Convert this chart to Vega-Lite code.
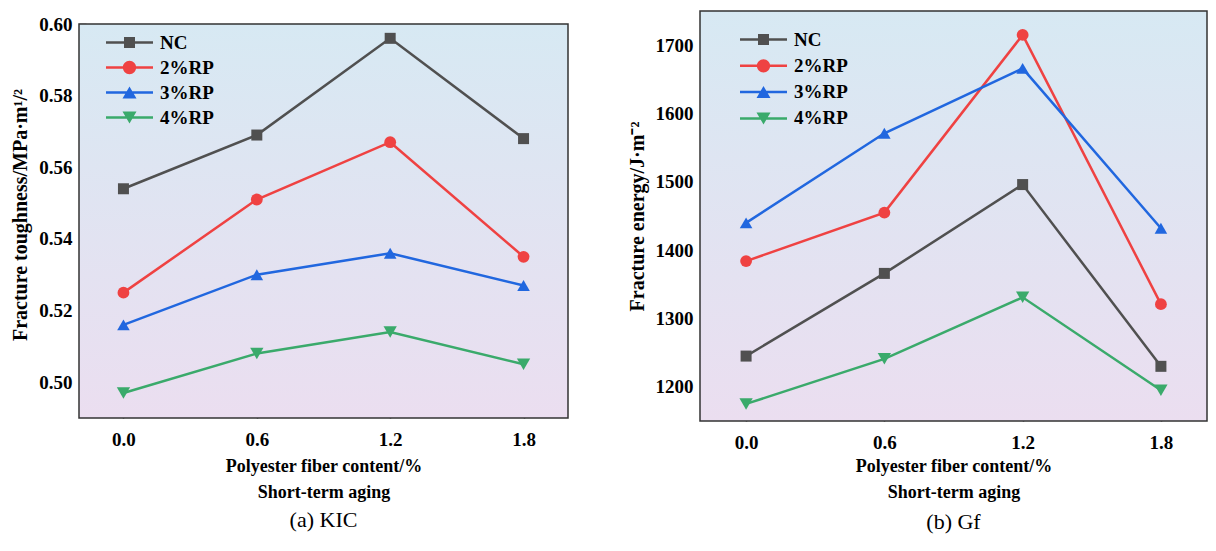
{
  "$schema": "https://vega.github.io/schema/vega-lite/v6.json",
  "padding": {"left": 10, "top": 10, "right": 5, "bottom": 5},
  "datasets": {
    "kic": [
      {"series": "NC", "fiber": 0.0, "value": 0.554},
      {"series": "NC", "fiber": 0.6, "value": 0.569},
      {"series": "NC", "fiber": 1.2, "value": 0.596},
      {"series": "NC", "fiber": 1.8, "value": 0.568},
      {"series": "2%RP", "fiber": 0.0, "value": 0.525},
      {"series": "2%RP", "fiber": 0.6, "value": 0.551},
      {"series": "2%RP", "fiber": 1.2, "value": 0.567},
      {"series": "2%RP", "fiber": 1.8, "value": 0.535},
      {"series": "3%RP", "fiber": 0.0, "value": 0.516},
      {"series": "3%RP", "fiber": 0.6, "value": 0.530},
      {"series": "3%RP", "fiber": 1.2, "value": 0.536},
      {"series": "3%RP", "fiber": 1.8, "value": 0.527},
      {"series": "4%RP", "fiber": 0.0, "value": 0.497},
      {"series": "4%RP", "fiber": 0.6, "value": 0.508},
      {"series": "4%RP", "fiber": 1.2, "value": 0.514},
      {"series": "4%RP", "fiber": 1.8, "value": 0.505}
    ],
    "gf": [
      {"series": "NC", "fiber": 0.0, "value": 1245},
      {"series": "NC", "fiber": 0.6, "value": 1366},
      {"series": "NC", "fiber": 1.2, "value": 1496},
      {"series": "NC", "fiber": 1.8, "value": 1230},
      {"series": "2%RP", "fiber": 0.0, "value": 1384},
      {"series": "2%RP", "fiber": 0.6, "value": 1455},
      {"series": "2%RP", "fiber": 1.2, "value": 1715},
      {"series": "2%RP", "fiber": 1.8, "value": 1321},
      {"series": "3%RP", "fiber": 0.0, "value": 1440},
      {"series": "3%RP", "fiber": 0.6, "value": 1571},
      {"series": "3%RP", "fiber": 1.2, "value": 1666},
      {"series": "3%RP", "fiber": 1.8, "value": 1432},
      {"series": "4%RP", "fiber": 0.0, "value": 1175},
      {"series": "4%RP", "fiber": 0.6, "value": 1241},
      {"series": "4%RP", "fiber": 1.2, "value": 1331},
      {"series": "4%RP", "fiber": 1.8, "value": 1195}
    ],
    "one": [{}]
  },
  "spacing": 58,
  "hconcat": [
    {
      "width": 489,
      "height": 407,
      "view": {"stroke": null},
      "title": {"text": "(a) KIC", "orient": "bottom", "offset": 9},
      "layer": [
        {
          "data": {"name": "one"},
          "mark": {
            "type": "rect", "stroke": "#333333", "strokeWidth": 1.5,
            "fill": {
              "gradient": "linear", "x1": 0, "y1": 0, "x2": 0, "y2": 1,
              "stops": [{"offset": 0, "color": "#d7e9f3"}, {"offset": 1, "color": "#ebdef0"}]
            }
          },
          "encoding": {
            "x": {"datum": -0.2, "type": "quantitative", "scale": {"domain": [-0.2, 2.0], "nice": false, "zero": false}},
            "x2": {"datum": 2.0},
            "y": {
              "datum": 0.49, "type": "quantitative",
              "scale": {"domain": [0.49, 0.60363], "nice": false, "zero": false},
              "axis": {"orient": "left", "values": [0.51, 0.53, 0.55, 0.57, 0.59], "labels": false, "title": null, "tickSize": -4}
            },
            "y2": {"datum": 0.60}
          }
        },
        {
          "layer": [
            {
              "data": {"name": "kic"},
              "mark": {"type": "line", "strokeWidth": 2.5},
              "encoding": {
                "x": {
                  "field": "fiber", "type": "quantitative",
                  "scale": {"domain": [-0.2, 2.0], "nice": false, "zero": false},
                  "axis": {"values": [0, 0.6, 1.2, 1.8], "format": ".1f", "title": ["Polyester fiber content/%", "Short-term aging"]}
                },
                "y": {
                  "field": "value", "type": "quantitative",
                  "scale": {"domain": [0.49, 0.60363], "nice": false, "zero": false},
                  "axis": {"orient": "left", "values": [0.50, 0.52, 0.54, 0.56, 0.58, 0.60], "format": ".2f", "title": "Fracture toughness/MPa·m¹/²"}
                },
                "color": {
                  "field": "series", "type": "nominal", "legend": null,
                  "scale": {"domain": ["NC", "2%RP", "3%RP", "4%RP"], "range": ["#505050", "#ef4242", "#2167df", "#3aaa6b"]}
                }
              }
            },
            {
              "data": {"name": "kic"},
              "mark": {"type": "point", "filled": true, "opacity": 1},
              "encoding": {
                "x": {"field": "fiber", "type": "quantitative"},
                "y": {"field": "value", "type": "quantitative"},
                "color": {
                  "field": "series", "type": "nominal", "legend": null,
                  "scale": {"domain": ["NC", "2%RP", "3%RP", "4%RP"], "range": ["#505050", "#ef4242", "#2167df", "#3aaa6b"]}
                },
                "shape": {
                  "field": "series", "type": "nominal", "legend": null,
                  "scale": {"domain": ["NC", "2%RP", "3%RP", "4%RP"], "range": ["square", "circle", "triangle-up", "triangle-down"]}
                },
                "size": {
                  "field": "series", "type": "nominal", "legend": null,
                  "scale": {"domain": ["NC", "2%RP", "3%RP", "4%RP"], "range": [121, 177, 190, 190]}
                }
              }
            },
            {
              "data": {"name": "kic"},
              "transform": [{"filter": "false"}],
              "mark": {"type": "point", "filled": true, "opacity": 1, "size": 100},
              "encoding": {
                "x": {"field": "fiber", "type": "quantitative"},
                "y": {"field": "value", "type": "quantitative"},
                "color": {
                  "field": "series", "type": "nominal",
                  "scale": {"domain": ["NC", "2%RP", "3%RP", "4%RP"], "range": ["#505050", "#ef4242", "#2167df", "#3aaa6b"]},
                  "legend": {"orient": "none", "legendX": 41, "legendY": 22, "rowPadding": 5}
                },
                "shape": {
                  "field": "series", "type": "nominal",
                  "scale": {
                    "domain": ["NC", "2%RP", "3%RP", "4%RP"],
                    "range": [
                      "M-4.7,-0.25H4.7V0.25H-4.7Z M-1.1,-1.1H1.1V1.1H-1.1Z",
                      "M-4.7,-0.25H4.7V0.25H-4.7Z M-1.33,0A1.33,1.33 0 1,1 1.33,0A1.33,1.33 0 1,1 -1.33,0Z",
                      "M-4.7,-0.25H4.7V0.25H-4.7Z M0,-1.2L1.4,1.2H-1.4Z",
                      "M-4.7,-0.25H4.7V0.25H-4.7Z M0,1.2L-1.4,-1.2H1.4Z"
                    ]
                  },
                  "legend": {"orient": "none", "legendX": 41, "legendY": 22, "rowPadding": 5}
                }
              }
            }
          ],
          "resolve": {"scale": {"color": "independent", "shape": "independent", "size": "independent"}}
        }
      ],
      "resolve": {"axis": {"y": "independent"}}
    },
    {
      "width": 507,
      "height": 410,
      "view": {"stroke": null},
      "title": {"text": "(b) Gf", "orient": "bottom", "offset": 11},
      "layer": [
        {
          "data": {"name": "one"},
          "mark": {
            "type": "rect", "stroke": "#333333", "strokeWidth": 1.5,
            "fill": {
              "gradient": "linear", "x1": 0, "y1": 0, "x2": 0, "y2": 1,
              "stops": [{"offset": 0, "color": "#d7e9f3"}, {"offset": 1, "color": "#ebdef0"}]
            }
          },
          "encoding": {
            "x": {"datum": -0.2, "type": "quantitative", "scale": {"domain": [-0.2, 2.0], "nice": false, "zero": false}},
            "x2": {"datum": 2.0},
            "y": {
              "datum": 1150, "type": "quantitative",
              "scale": {"domain": [1150, 1750], "nice": false, "zero": false},
              "axis": {"orient": "left", "values": [1250, 1350, 1450, 1550, 1650], "labels": false, "title": null, "tickSize": -4}
            },
            "y2": {"datum": 1750}
          }
        },
        {
          "layer": [
            {
              "data": {"name": "gf"},
              "mark": {"type": "line", "strokeWidth": 2.5},
              "encoding": {
                "x": {
                  "field": "fiber", "type": "quantitative",
                  "scale": {"domain": [-0.2, 2.0], "nice": false, "zero": false},
                  "axis": {"values": [0, 0.6, 1.2, 1.8], "format": ".1f", "titlePadding": 5, "title": ["Polyester fiber content/%", "Short-term aging"]}
                },
                "y": {
                  "field": "value", "type": "quantitative",
                  "scale": {"domain": [1150, 1750], "nice": false, "zero": false},
                  "axis": {"orient": "left", "values": [1200, 1300, 1400, 1500, 1600, 1700], "format": "d", "title": "Fracture energy/J·m⁻²"}
                },
                "color": {
                  "field": "series", "type": "nominal", "legend": null,
                  "scale": {"domain": ["NC", "2%RP", "3%RP", "4%RP"], "range": ["#505050", "#ef4242", "#2167df", "#3aaa6b"]}
                }
              }
            },
            {
              "data": {"name": "gf"},
              "mark": {"type": "point", "filled": true, "opacity": 1},
              "encoding": {
                "x": {"field": "fiber", "type": "quantitative"},
                "y": {"field": "value", "type": "quantitative"},
                "color": {
                  "field": "series", "type": "nominal", "legend": null,
                  "scale": {"domain": ["NC", "2%RP", "3%RP", "4%RP"], "range": ["#505050", "#ef4242", "#2167df", "#3aaa6b"]}
                },
                "shape": {
                  "field": "series", "type": "nominal", "legend": null,
                  "scale": {"domain": ["NC", "2%RP", "3%RP", "4%RP"], "range": ["square", "circle", "triangle-up", "triangle-down"]}
                },
                "size": {
                  "field": "series", "type": "nominal", "legend": null,
                  "scale": {"domain": ["NC", "2%RP", "3%RP", "4%RP"], "range": [121, 177, 190, 190]}
                }
              }
            },
            {
              "data": {"name": "gf"},
              "transform": [{"filter": "false"}],
              "mark": {"type": "point", "filled": true, "opacity": 1, "size": 100},
              "encoding": {
                "x": {"field": "fiber", "type": "quantitative"},
                "y": {"field": "value", "type": "quantitative"},
                "color": {
                  "field": "series", "type": "nominal",
                  "scale": {"domain": ["NC", "2%RP", "3%RP", "4%RP"], "range": ["#505050", "#ef4242", "#2167df", "#3aaa6b"]},
                  "legend": {"orient": "none", "legendX": 54, "legendY": 19, "rowPadding": 6.3}
                },
                "shape": {
                  "field": "series", "type": "nominal",
                  "scale": {
                    "domain": ["NC", "2%RP", "3%RP", "4%RP"],
                    "range": [
                      "M-4.7,-0.25H4.7V0.25H-4.7Z M-1.1,-1.1H1.1V1.1H-1.1Z",
                      "M-4.7,-0.25H4.7V0.25H-4.7Z M-1.33,0A1.33,1.33 0 1,1 1.33,0A1.33,1.33 0 1,1 -1.33,0Z",
                      "M-4.7,-0.25H4.7V0.25H-4.7Z M0,-1.2L1.4,1.2H-1.4Z",
                      "M-4.7,-0.25H4.7V0.25H-4.7Z M0,1.2L-1.4,-1.2H1.4Z"
                    ]
                  },
                  "legend": {"orient": "none", "legendX": 54, "legendY": 19, "rowPadding": 6.3}
                }
              }
            }
          ],
          "resolve": {"scale": {"color": "independent", "shape": "independent", "size": "independent"}}
        }
      ],
      "resolve": {"axis": {"y": "independent"}}
    }
  ],
  "resolve": {"scale": {"x": "independent", "y": "independent", "color": "independent", "shape": "independent", "size": "independent"}},
  "config": {
    "font": "Liberation Serif",
    "title": {"font": "Liberation Serif", "fontSize": 22, "fontWeight": "normal", "color": "#000000"},
    "axis": {
      "grid": false, "domain": false,
      "tickColor": "#333333", "tickWidth": 1.5, "tickSize": -7,
      "labelFont": "Liberation Serif", "labelFontSize": 19, "labelFontWeight": "bold", "labelColor": "#000000",
      "titleFont": "Liberation Serif", "titleFontWeight": "bold", "titleColor": "#000000"
    },
    "axisX": {"labelPadding": 19, "titleFontSize": 18, "titleLineHeight": 26, "titlePadding": 8},
    "axisY": {"labelPadding": 14, "titleFontSize": 20, "titlePadding": 8},
    "legend": {
      "title": null, "padding": 0, "labelFont": "Liberation Serif", "labelFontSize": 19, "labelFontWeight": "bold",
      "labelColor": "#000000", "labelOffset": 21, "rowPadding": 5, "symbolSize": 100, "symbolStrokeWidth": 0
    }
  }
}
